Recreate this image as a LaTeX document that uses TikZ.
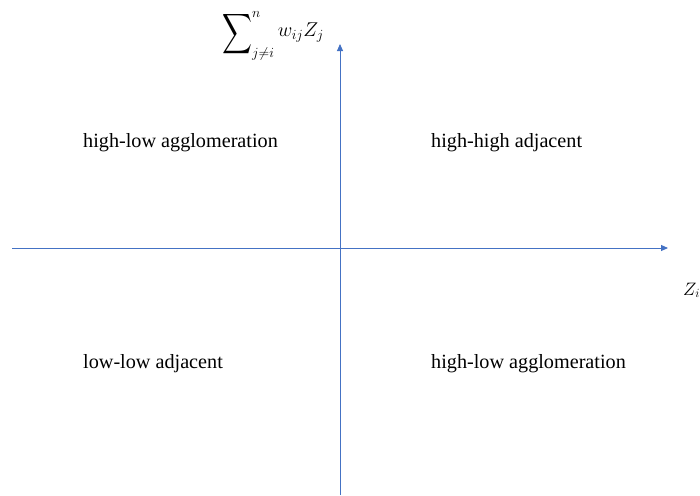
\RequirePackage{fix-cm}
\documentclass[tikz,border=0pt]{standalone}
\usepackage{exscale}
\usepackage{graphicx}
\usepackage{fontspec}
\setmainfont{Liberation Serif}
\usetikzlibrary{arrows.meta}
\definecolor{axisblue}{HTML}{4472C4}
\tikzset{
  axis/.style={draw=axisblue, line width=0.9pt, -{Triangle[length=7pt,width=6pt]}},
  quad/.style={anchor=base west, inner sep=0pt, font=\fontsize{20.2}{24}\selectfont},
  mathlbl/.style={anchor=base west, inner sep=0pt, font=\fontsize{20}{24}\selectfont},
}
\begin{document}
\begin{tikzpicture}[x=1pt,y=-1pt]
\useasboundingbox (0,0) rectangle (700,495);
\coordinate (xs) at (12,248);
\coordinate (xe) at (668,248);
\coordinate (ys) at (340,495);
\coordinate (ye) at (340,44);
\draw[axis] (xs) -- (xe);
\draw[axis] (ys) -- (ye);
\node[quad] (q1) at (83,147) {high-low agglomeration};
\node[quad] (q2) at (431,147) {high-high adjacent};
\node[quad] (q3) at (83,368) {low-low adjacent};
\node[quad] (q4) at (431,368) {high-low agglomeration};
\node[mathlbl] (ly) at (222,37) {$\mathop{\raisebox{-4pt}{\scalebox{1}[1.35]{$\displaystyle\sum$}}}\nolimits_{j\neq i}^{n} w_{ij}Z_j$};
\node[mathlbl, font=\fontsize{18}{22}\selectfont] (lx) at (683,295) {$Z_i$};
\end{tikzpicture}
\end{document}
